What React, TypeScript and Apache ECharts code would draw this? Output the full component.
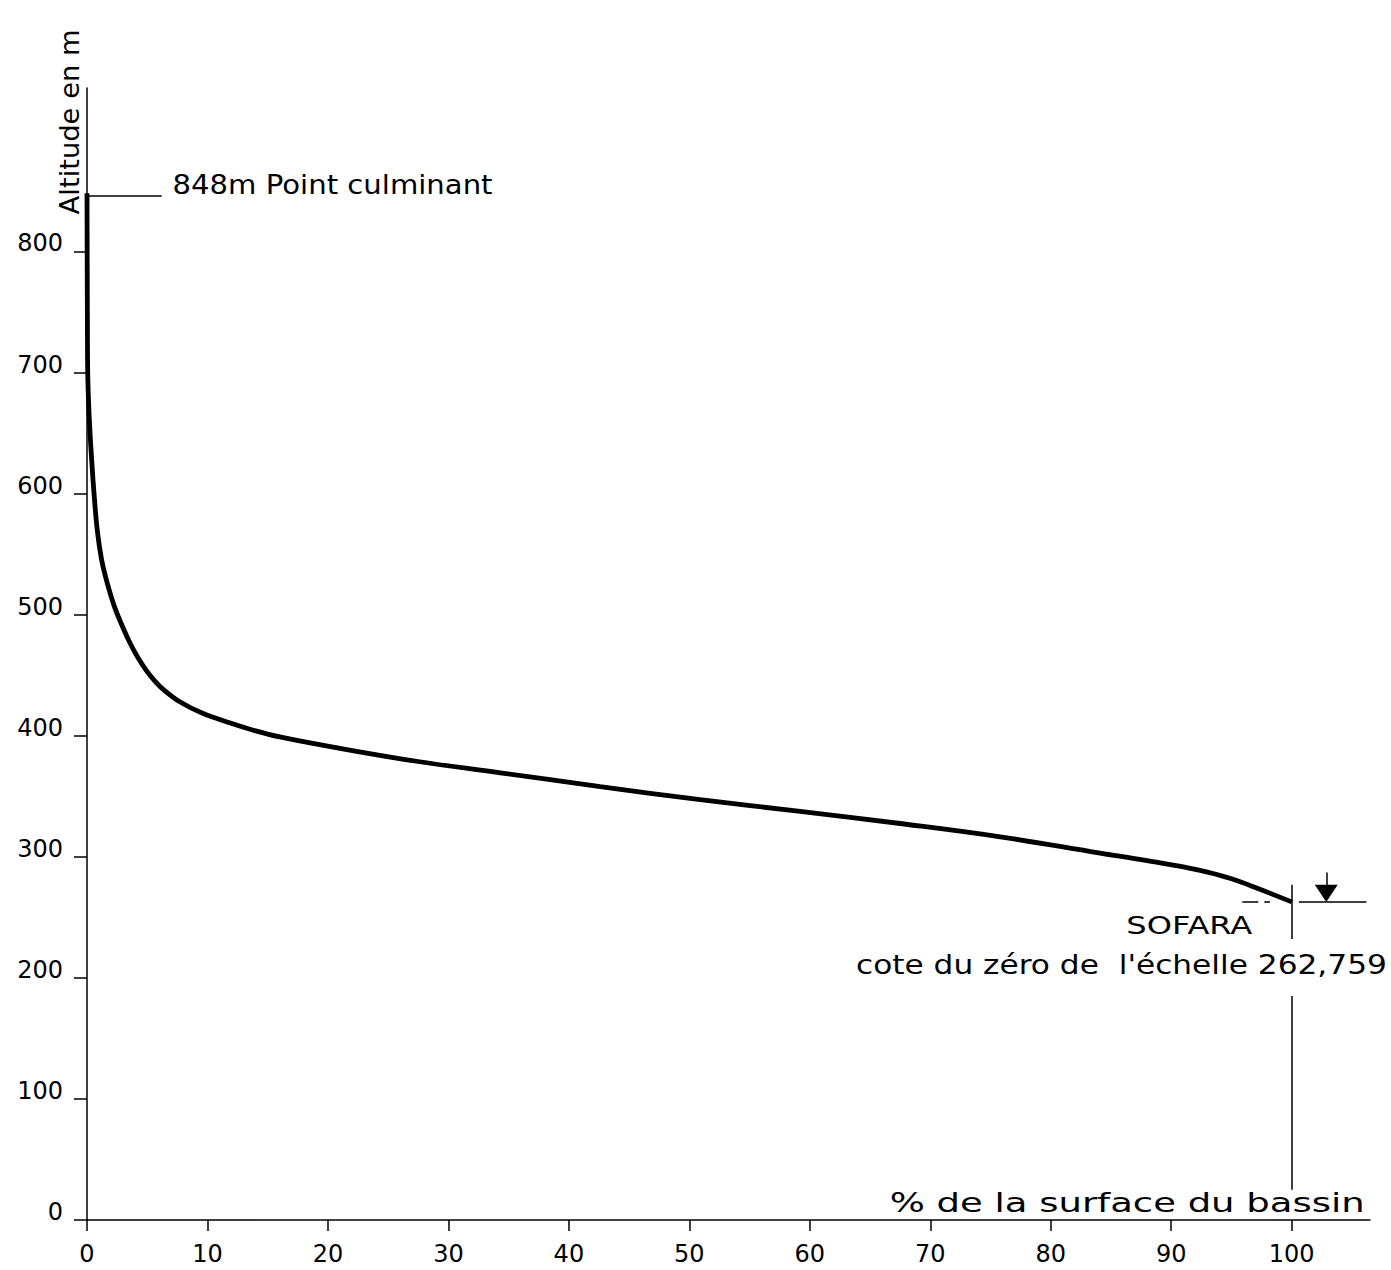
import React, { useEffect, useRef } from "react";
import * as echarts from "echarts";

// Hypsometric curve: % of basin surface (x) vs altitude in m (y)
const surfacePct = [0, 0.03, 0.06, 0.2, 0.4, 0.6, 0.85, 1.2, 1.6, 2.3, 3.0, 3.57, 4.2, 4.95, 5.6, 6.3, 7.7, 9.6, 11.9, 14, 16, 20.2, 27.6, 34.3, 42.6, 50.9, 59.2, 67.5, 75.8, 84.1, 88, 92.4, 95, 97.3, 100];
const altitude = [848, 750, 700, 660, 626, 598, 570, 546, 529, 506, 489, 476.6, 465, 453.5, 445.5, 438.5, 428, 418.5, 410.5, 404, 399, 391, 378.5, 369.4, 358, 347.2, 337.5, 327.5, 316.5, 303, 296.8, 288.8, 281.8, 273.4, 262.759];

const xTicks = [0, 10, 20, 30, 40, 50, 60, 70, 80, 90, 100];
const yTicks = [0, 100, 200, 300, 400, 500, 600, 700, 800];

const peakAltitude = 848;
const gaugeZero = 262.759;

const FONT = "DejaVu Sans";

function measure(text: string, size: number): number {
  const c = document.createElement("canvas").getContext("2d");
  if (!c) return text.length * size * 0.6;
  c.font = `${size}px "${FONT}"`;
  return c.measureText(text).width;
}

export default function App() {
  const ref = useRef<HTMLDivElement>(null);

  useEffect(() => {
    if (!ref.current) return;
    const chart = echarts.init(ref.current, undefined, { renderer: "svg" });
    const data = surfacePct.map((x, i) => [x, altitude[i]]);
    const lineStyle = { color: "#000", width: 1.5, type: "solid" as const };

    const seg = (a: number[], b: number[], style: any = lineStyle) => [
      { coord: a, lineStyle: style },
      { coord: b },
    ];

    chart.setOption({
      animation: false,
      backgroundColor: "#fff",
      grid: { left: 87, right: 21, top: 88, bottom: 50 },
      xAxis: {
        type: "value",
        min: 0,
        max: 106.5,
        interval: 10,
        splitLine: { show: false },
        axisLine: { lineStyle: { color: "#000", width: 1.5 } },
        axisTick: { customValues: xTicks, length: 11, lineStyle: { color: "#000", width: 1.5 } },
        axisLabel: { customValues: xTicks, color: "#000", fontFamily: FONT, fontSize: 24, margin: 22 },
      },
      yAxis: {
        type: "value",
        min: 0,
        max: 935,
        interval: 100,
        splitLine: { show: false },
        axisLine: { lineStyle: { color: "#000", width: 1.5 } },
        axisTick: { customValues: yTicks, length: 13, lineStyle: { color: "#000", width: 1.5 } },
        axisLabel: {
          customValues: yTicks,
          color: "#000",
          fontFamily: FONT,
          fontSize: 24,
          margin: 24,
          verticalAlign: "bottom",
          lineHeight: 16,
        },
      },
      series: [
        {
          type: "line",
          data,
          smooth: 0.4,
          symbol: "none",
          lineStyle: { color: "#000", width: 4.8 },
          markLine: {
            silent: true,
            symbol: ["none", "none"],
            label: { show: false },
            data: [
              seg([0, peakAltitude - 2], [6.2, peakAltitude - 2]),
              seg([100, 277], [100, 232]),
              seg([100, 185], [100, 25]),
              seg([95.9, gaugeZero], [98.2, gaugeZero], { color: "#000", width: 1.5, type: [16, 6] }),
              seg([100.6, gaugeZero], [106.2, gaugeZero]),
              seg([102.9, 287], [102.9, 276]),
            ],
          },
        },
      ],
    });

    const px = (x: number, y: number) => chart.convertToPixel({ gridIndex: 0 }, [x, y]) as number[];

    const label = (text: string, at: number[], size: number, width: number, align: string, rotation = 0) => ({
      type: "text",
      x: at[0],
      y: at[1],
      rotation,
      scaleX: width / measure(text, size),
      style: { text, fill: "#000", fontFamily: FONT, fontSize: size, verticalAlign: "middle", align },
    });

    const tip = px(102.87, gaugeZero);
    const tl = px(101.92, 276.9);
    const tr = px(103.82, 276.9);

    chart.setOption({
      graphic: [
        label("848m Point culminant", px(7.1, 855), 27, 320, "left"),
        label("Altitude en m", px(-1.4, 907), 26, 185, "center", Math.PI / 2),
        label("SOFARA", px(91.5, 243.8), 25, 126, "center"),
        label("cote du zéro de  l'échelle 262,759", px(107.9, 210.7), 26, 531, "right"),
        label("% de la surface du bassin", px(106.06, 14), 27, 475, "right"),
        {
          type: "polygon",
          shape: { points: [tl, tr, tip] },
          style: { fill: "#000" },
        },
      ],
    });

    return () => chart.dispose();
  }, []);

  return <div ref={ref} style={{ width: 1391, height: 1270, position: "absolute", left: 0, top: 0 }} />;
}
